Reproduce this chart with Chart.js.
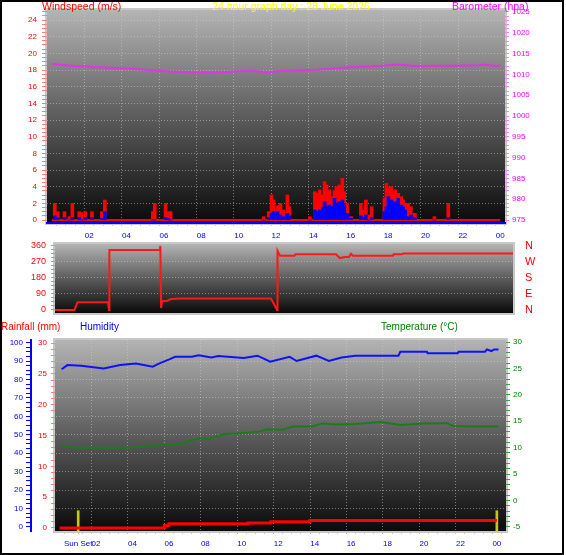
<!DOCTYPE html>
<html>
<head>
<meta charset="utf-8">
<script src="https://cdn.jsdelivr.net/npm/chart.js@4.4.1/dist/chart.umd.min.js"></script>
<style>
  body { margin: 0; background: #fff; }
  #page { position: relative; width: 566px; height: 555px; overflow: hidden; }
  #frame { position: absolute; left: 0; top: 0; width: 564px; height: 555px; border: 2px solid #000; box-sizing: border-box; }
  canvas { position: absolute; left: 0; }
  .t { position: absolute; font-family: 'Liberation Sans', Arial, sans-serif; white-space: nowrap; line-height: 12px; z-index: 2; }
</style>
</head>
<body>
<div id="page">
  <div id="frame"></div>
  <canvas id="windChart" width="566" height="245" style="top:0"></canvas>
  <canvas id="dirChart" width="566" height="80" style="top:240px"></canvas>
  <canvas id="climateChart" width="566" height="225" style="top:330px"></canvas>

  <div class="t" style="left:42px;top:0;font-size:10.5px;color:#ff0000">Windspeed (m/s)</div>
  <div class="t" style="left:291px;top:0;font-size:10.5px;color:#ffff00;transform:translateX(-50%)">24 hour graph day : 28 June 2026</div>
  <div class="t" style="left:452px;top:0;font-size:10.5px;color:#ff00ff">Barometer (hpa)</div>
  <div class="t" style="left:1px;top:321px;font-size:10px;color:#ff0000">Rainfall (mm)</div>
  <div class="t" style="left:80px;top:321px;font-size:10px;color:#0000ff">Humidity</div>
  <div class="t" style="left:381px;top:321px;font-size:10px;color:#008000">Temperature (°C)</div>
</div>

<script>
// ===== DATOS =====
// viento (hora del dia, m/s)
const windTimes = [0.16, 0.32, 0.68, 0.95, 1.10, 1.47, 1.58, 1.79, 2.15, 2.68, 2.84, 5.41, 5.51, 6.09, 6.25, 6.36, 11.34, 11.61, 11.76, 11.87, 12.08, 12.24, 12.39, 12.61, 12.71, 13.81, 14.08, 14.18, 14.34, 14.50, 14.60, 14.71, 14.86, 15.02, 15.13, 15.23, 15.39, 15.55, 15.65, 15.81, 16.02, 16.54, 16.70, 16.81, 16.96, 17.12, 17.80, 17.91, 18.01, 18.17, 18.28, 18.38, 18.54, 18.70, 18.80, 18.91, 19.07, 19.22, 19.43, 20.48, 21.22];
const windGust = [2.0, 1.0, 1.0, 0.4, 2.0, 1.0, 0.9, 1.0, 1.0, 1.0, 2.4, 1.0, 2.0, 2.0, 1.0, 1.0, 0.4, 1.0, 3.0, 2.4, 1.7, 2.0, 1.2, 3.0, 1.6, 0.4, 3.4, 3.2, 3.6, 3.0, 4.6, 4.2, 3.6, 2.8, 3.5, 4.0, 4.2, 5.0, 3.4, 2.0, 0.4, 2.0, 1.2, 2.4, 0.6, 1.6, 2.6, 4.4, 3.9, 4.0, 3.4, 3.6, 3.2, 2.8, 2.4, 2.0, 2.0, 1.6, 0.8, 0.4, 2.0];
const windAvg = [0.5, 0.3, 0.3, 0, 0.3, 0.3, 0, 0.3, 0.3, 0.2, 1.0, 0, 0, 0.3, 0.2, 0, 0, 0.3, 0.8, 1.0, 1.0, 0.6, 0.4, 0.8, 0.5, 0, 1.2, 1.0, 1.2, 1.5, 2.2, 1.6, 1.8, 1.6, 2.6, 2.0, 2.2, 2.4, 2.0, 0.8, 0.2, 0.5, 0.3, 0.6, 0, 0.3, 1.0, 1.6, 2.8, 2.4, 2.0, 2.2, 2.6, 1.8, 1.6, 1.2, 0.4, 0.6, 0.3, 0, 0.3];
const dayRange = [0, 24];

// barometro (hPa)
const baroTimes = [0, 1.21, 2.26, 3.66, 4.53, 5.41, 6.29, 7.51, 8.56, 9.79, 10.66, 11.54, 12.41, 14.16, 15.91, 17.66, 18.54, 19.42, 21.17, 22.92, 23.09, 23.79, 24];
const baroValues = [1012.5, 1012.0, 1011.8, 1011.5, 1011.3, 1011.0, 1010.7, 1010.5, 1010.4, 1010.7, 1010.9, 1010.5, 1010.9, 1011.1, 1011.7, 1012.1, 1012.4, 1012.0, 1012.1, 1012.2, 1012.4, 1012.0, 1012.3];

// direccion del viento (grados)
const dirTimes = [0, 1.02, 1.18, 2.78, 2.83, 2.85, 5.50, 5.52, 5.56, 5.61, 5.90, 6.08, 6.50, 11.32, 11.64, 11.66, 11.79, 12.55, 12.60, 14.72, 14.93, 15.20, 15.40, 15.51, 15.60, 17.71, 17.75, 18.18, 18.25, 24];
const dirValues = [0, 0, 43, 43, 0, 337, 337, 360, 11, 50, 52, 62, 64, 64, 0, 333, 305, 305, 313, 313, 292, 298, 298, 316, 305, 305, 313, 313, 318, 318];
const compassDegrees = [0, 90, 180, 270, 360];
const compassLabels = ['N', 'E', 'S', 'W', 'N'];

// humedad (%)
const humTimes = [0.11, 0.43, 1.18, 2.42, 3.33, 4.19, 5.11, 5.48, 6.02, 6.34, 7.26, 7.63, 8.33, 8.71, 10.11, 10.86, 11.56, 12.63, 13.01, 14.09, 14.78, 15.48, 16.24, 18.60, 18.70, 20.16, 20.20, 21.85, 21.90, 23.35, 23.45, 23.70, 23.85, 24.09];
const humValues = [85.5, 87.8, 87.4, 86.0, 87.8, 88.7, 86.9, 88.7, 90.9, 92.3, 92.3, 93.1, 91.9, 92.7, 91.6, 92.9, 89.6, 92.3, 90.0, 92.9, 90.0, 91.9, 92.9, 92.9, 95.0, 95.0, 94.2, 94.2, 95.0, 95.0, 96.3, 95.4, 96.3, 96.3];

// temperatura (°C)
const tempTimes = [0.11, 0.81, 2.42, 3.87, 5.11, 6.56, 7.63, 8.17, 9.03, 9.78, 10.86, 11.40, 12.26, 12.80, 13.87, 14.41, 15.16, 16.24, 17.63, 18.71, 20.0, 21.24, 21.61, 22.69, 24.09];
const tempValues = [10.4, 10.0, 10.0, 10.0, 10.4, 10.6, 11.8, 11.6, 12.6, 12.7, 13.0, 13.5, 13.4, 14.0, 14.0, 14.6, 14.4, 14.5, 14.85, 14.3, 14.6, 14.65, 14.1, 14.0, 14.0];

// lluvia acumulada (mm)
const rainTimes = [0, 5.75, 6.0, 10.35, 11.6, 13.74, 24.0];
const rainValues = [0, 0.4, 0.7, 0.8, 1.0, 1.2, 1.2];

// puesta de sol / fin del dia
const sunTimes = [1.02, 24.0];
const sunLevel = [2.8, 2.8];
const sunsetHour = 1.02;

// ===== AYUDAS =====
Chart.defaults.font.family = "'Liberation Sans', Arial, sans-serif";
Chart.defaults.font.size = 8;

const GRID = 'rgba(210, 210, 210, 0.5)';
const NONE = 'rgba(0, 0, 0, 0)';

const pts = (xs, ys) => xs.map((x, i) => ({ x: x, y: ys[i] }));
const isMultiple = (v, step) => Math.abs(v / step - Math.round(v / step)) < 1e-6;
const pad2 = n => String(Math.round(n)).padStart(2, '0');

// marcas del eje cada 'step' entre lo y hi (mas extras)
function buildTicks(step, lo, hi, extra) {
    return function (scale) {
        const n = Math.round((hi - lo) / step);
        const ticks = [];
        for (let k = 0; k <= n; k++) {
            ticks.push({ value: Math.round((lo + k * step) * 1000) / 1000 });
        }
        (extra || []).forEach(v => ticks.push({ value: v }));
        ticks.sort((a, b) => a.value - b.value);
        scale.ticks = ticks;
    };
}
function gridEvery(step, lo, hi) {
    return c => (c.tick && isMultiple(c.tick.value, step) && c.tick.value > lo && c.tick.value < hi) ? GRID : NONE;
}
function labelEvery(step) {
    return v => isMultiple(v, step) ? String(Math.round(v)) : '';
}
function fixWidth(w) {
    return s => { s.width = w; s.paddingTop = 0; s.paddingBottom = 0; };
}
function fixHeight(h) {
    return s => { s.height = h; s.paddingLeft = 0; s.paddingRight = 0; };
}

// fondo degradado del area del grafico + marco gris
const panelBackdrop = {
    id: 'panelBackdrop',
    beforeDraw(chart) {
        const { ctx, chartArea: a } = chart;
        const g = ctx.createLinearGradient(0, a.top, 0, a.bottom);
        g.addColorStop(0, '#b4b4b4');
        g.addColorStop(0.5, '#5c5c5c');
        g.addColorStop(1, '#0a0a0a');
        ctx.save();
        ctx.fillStyle = g;
        ctx.fillRect(a.left, a.top, a.width, a.height);
        ctx.strokeStyle = '#c8c8c8';
        ctx.lineWidth = 2;
        ctx.strokeRect(a.left - 1, a.top - 1, a.width + 2, a.height + 2);
        ctx.restore();
    }
};

const baseOptions = {
    responsive: false,
    animation: false,
    devicePixelRatio: 1,
    events: [],
    plugins: { legend: { display: false }, tooltip: { enabled: false } }
};

// ===== VIENTO + BAROMETRO =====
new Chart(document.getElementById('windChart'), {
    type: 'bar',
    data: {
        datasets: [
            {
                type: 'line', label: 'Barometer', yAxisID: 'yBaro',
                data: pts(baroTimes, baroValues),
                borderColor: '#e830e8', borderWidth: 2, pointRadius: 0, tension: 0, order: 0
            },
            {
                label: 'Average', yAxisID: 'yWind',
                data: pts(windTimes, windAvg),
                backgroundColor: '#0000ff', barThickness: 3, grouped: false, order: 1
            },
            {
                label: 'Gust', yAxisID: 'yWind',
                data: pts(windTimes, windGust),
                backgroundColor: '#ff0000', barThickness: 3, grouped: false, order: 2
            },
            {
                type: 'line', label: 'Calm', yAxisID: 'yWind',
                data: dayRange.map(h => ({ x: h, y: 0 })),
                borderColor: '#ff0000', borderWidth: 2, pointRadius: 0, order: 3
            }
        ]
    },
    options: Object.assign({}, baseOptions, {
        layout: { autoPadding: false, padding: { top: 10, left: 0, right: 0, bottom: 0 } },
        scales: {
            x: {
                type: 'linear', min: 0, max: 24,
                afterFit: fixHeight(22),
                afterBuildTicks: buildTicks(0.5, 0.5, 24),
                ticks: {
                    autoSkip: false, maxRotation: 0, color: '#0000ff', padding: 5,
                    callback: v => (isMultiple(v, 2) && v > 0) ? pad2(v % 24) : ''
                },
                grid: { color: gridEvery(2, 0, 24), tickColor: '#c8c8c8', tickLength: 3 },
                border: { display: true, color: '#0000ff', width: 2, dash: [1, 2] }
            },
            yWind: {
                position: 'left', min: -0.36, max: 25.2,
                afterFit: fixWidth(47),
                afterBuildTicks: buildTicks(0.5, 0, 25),
                ticks: { autoSkip: false, color: '#ff0000', padding: 5, callback: labelEvery(2) },
                grid: { color: gridEvery(2, 0, 25), tickColor: '#ff8080', tickLength: 5 },
                border: { display: false, dash: [1, 2] }
            },
            yBaro: {
                position: 'right', min: 974.28, max: 1025.48,
                afterFit: fixWidth(61),
                afterBuildTicks: buildTicks(1, 975, 1025),
                ticks: { autoSkip: false, color: '#ff00ff', padding: 3, callback: labelEvery(5) },
                grid: { drawOnChartArea: false, tickColor: '#ff80ff', tickLength: 4 },
                border: { display: false }
            }
        }
    }),
    plugins: [panelBackdrop]
});

// ===== DIRECCION =====
new Chart(document.getElementById('dirChart'), {
    type: 'line',
    data: {
        datasets: [{
            label: 'Direction', yAxisID: 'y',
            data: pts(dirTimes, dirValues),
            borderColor: '#ff1818', borderWidth: 2, pointRadius: 0, tension: 0
        }]
    },
    options: Object.assign({}, baseOptions, {
        layout: { autoPadding: false, padding: { top: 4, left: 0, right: 0, bottom: 7 } },
        scales: {
            x: { type: 'linear', min: 0, max: 24, display: false },
            y: {
                position: 'left', min: -17, max: 371,
                afterFit: fixWidth(55),
                afterBuildTicks: buildTicks(22.5, 0, 360),
                ticks: { autoSkip: false, color: '#ff0000', font: { size: 9 }, padding: 5, callback: labelEvery(90) },
                grid: { color: gridEvery(90, 0, 360), tickColor: '#ff8080', tickLength: 4 },
                border: { display: false, dash: [1, 2] }
            },
            yCompass: {
                position: 'right', min: -17, max: 371,
                afterFit: fixWidth(53),
                afterBuildTicks: s => { s.ticks = compassDegrees.map(v => ({ value: v })); },
                ticks: {
                    autoSkip: false, color: '#ff0000', font: { size: 11 }, padding: 12,
                    callback: v => compassLabels[compassDegrees.indexOf(v)]
                },
                grid: { drawOnChartArea: false, drawTicks: false },
                border: { display: false }
            }
        }
    }),
    plugins: [panelBackdrop]
});

// ===== LLUVIA / HUMEDAD / TEMPERATURA =====
new Chart(document.getElementById('climateChart'), {
    type: 'line',
    data: {
        datasets: [
            {
                label: 'Humidity', yAxisID: 'yHum',
                data: pts(humTimes, humValues),
                borderColor: '#1010ff', borderWidth: 2, pointRadius: 0, tension: 0, order: 1
            },
            {
                label: 'Temperature', yAxisID: 'yTemp',
                data: pts(tempTimes, tempValues),
                borderColor: '#1f7a1f', borderWidth: 2, pointRadius: 0, tension: 0, order: 2
            },
            {
                label: 'Rainfall', yAxisID: 'yRain',
                data: pts(rainTimes, rainValues),
                borderColor: '#ff0000', borderWidth: 3, pointRadius: 0, stepped: true, order: 0
            },
            {
                type: 'bar', label: 'Sun', yAxisID: 'yRain',
                data: pts(sunTimes, sunLevel),
                backgroundColor: '#c8c800', barThickness: 2, base: -0.49, order: 3
            }
        ]
    },
    options: Object.assign({}, baseOptions, {
        layout: { autoPadding: false, padding: { top: 10, left: 0, right: 0, bottom: 0 } },
        scales: {
            x: {
                type: 'linear', min: 0, max: 24.25,
                afterFit: fixHeight(24),
                afterBuildTicks: buildTicks(0.5, 0.5, 24, [sunsetHour]),
                ticks: {
                    autoSkip: false, maxRotation: 0, color: '#0000ff', padding: 5,
                    callback: v => v === sunsetHour ? 'Sun Set' : ((isMultiple(v, 2) && v > 0) ? pad2(v % 24) : '')
                },
                grid: { color: gridEvery(2, 0, 24), tickColor: '#c8c8c8', tickLength: 3 },
                border: { display: false, dash: [1, 2] }
            },
            yHum: {
                position: 'left', weight: 2, min: -2.2, max: 101.4,
                afterFit: fixWidth(31),
                afterBuildTicks: buildTicks(2.5, 0, 100),
                ticks: { autoSkip: false, color: '#0000ff', padding: 3, callback: labelEvery(10) },
                grid: { color: gridEvery(10, 0, 100), tickColor: '#0000ff', tickLength: 5 },
                border: { display: true, color: '#0000ff', width: 2, dash: [1, 2] }
            },
            yRain: {
                position: 'left', weight: 1, min: -0.49, max: 30.49,
                afterFit: fixWidth(24),
                afterBuildTicks: buildTicks(1, 0, 30),
                ticks: { autoSkip: false, color: '#ff0000', padding: 4, callback: labelEvery(5) },
                grid: { drawOnChartArea: false, tickColor: '#ff8080', tickLength: 4 },
                border: { display: false }
            },
            yTemp: {
                position: 'right', min: -5.76, max: 30.38,
                afterFit: fixWidth(60),
                afterBuildTicks: buildTicks(1, -5, 30),
                ticks: { autoSkip: false, color: '#008000', padding: 3, callback: labelEvery(5) },
                grid: { drawOnChartArea: false, tickColor: '#40a040', tickLength: 4 },
                border: { display: false }
            }
        }
    }),
    plugins: [panelBackdrop]
});
</script>
</body>
</html>
